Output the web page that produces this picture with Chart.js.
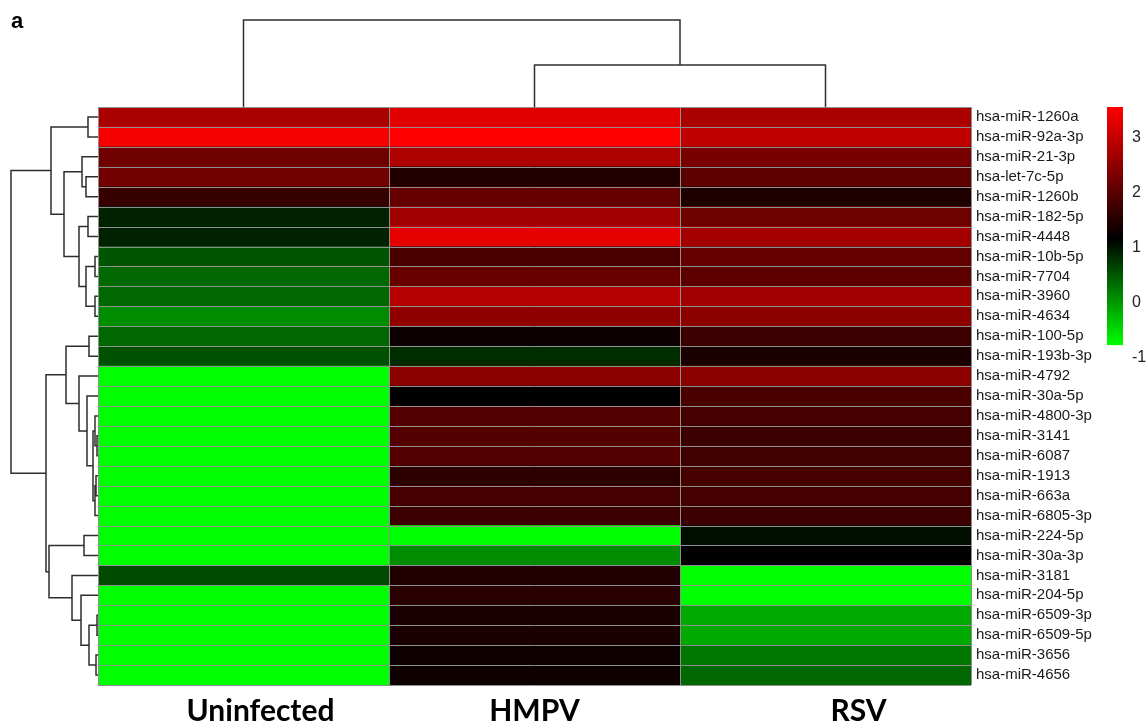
<!DOCTYPE html>
<html>
<head>
<meta charset="utf-8">
<script src="https://cdn.jsdelivr.net/npm/chart.js@4.4.0/dist/chart.umd.min.js"></script>
<style>
  html,body{margin:0;padding:0;background:#fff;}
  #wrap{position:relative;width:1147px;height:728px;}
</style>
</head>
<body>
<div id="wrap"><canvas id="c" width="1147" height="728"></canvas></div>
<script>
// ---------- data ----------
const rowLabels = [
  "hsa-miR-1260a","hsa-miR-92a-3p","hsa-miR-21-3p","hsa-let-7c-5p","hsa-miR-1260b",
  "hsa-miR-182-5p","hsa-miR-4448","hsa-miR-10b-5p","hsa-miR-7704","hsa-miR-3960",
  "hsa-miR-4634","hsa-miR-100-5p","hsa-miR-193b-3p","hsa-miR-4792","hsa-miR-30a-5p",
  "hsa-miR-4800-3p","hsa-miR-3141","hsa-miR-6087","hsa-miR-1913","hsa-miR-663a",
  "hsa-miR-6805-3p","hsa-miR-224-5p","hsa-miR-30a-3p","hsa-miR-3181","hsa-miR-204-5p",
  "hsa-miR-6509-3p","hsa-miR-6509-5p","hsa-miR-3656","hsa-miR-4656"
];
const columnLabels = ["Uninfected","HMPV","RSV"];

const uninfected = [2.75,3.46,2.19,2.23,1.67,0.89,0.89,0.51,0.36,0.36,0.09,0.36,0.54,
  -0.9,-0.9,-0.9,-0.9,-0.9,-0.9,-0.9,-0.9,-0.9,-0.9,0.58,-0.9,-0.9,-0.9,-0.9,-0.9];
const hmpv = [3.27,3.6,2.80,1.48,2.09,2.66,3.31,1.86,2.14,2.84,2.51,1.26,0.81,
  2.47,1.15,1.95,1.95,1.95,1.57,1.81,1.71,-0.9,0.09,1.48,1.53,1.39,1.39,1.29,1.29];
const rsv = [2.75,2.94,2.28,2.04,1.43,2.19,2.70,2.09,2.04,2.66,2.47,1.71,1.39,
  2.47,1.86,1.81,1.71,1.76,1.81,1.81,1.71,1.04,1.15,-0.9,-0.9,-0.14,-0.14,0.24,0.36];

const colorbarTicks = [3,2,1,0,-1];
const colorMin = -0.78, colorMid = 1.15, colorMax = 3.55;

// dendrograms: [left, right, mergeHeight]; leaves are row/column indices
const rowTree = [
  [[0,1,10],
   [[2,[3,4,12],16],
    [[5,6,10],[[7,8,3],[9,10,3],12],19],34],47],
  [[[11,12,9],
    [13,[14,[[15,[16,17,1],3],[[18,19,2],20,3],5],11],19],32],
   [[21,22,14],
    [23,[24,[[25,26,1],[27,28,2],9],17],26],49],52],
  87];
const rowTreeMax = 87;
const colTree = [0,[1,2,42],87];
const colTreeMax = 87;

// ---------- helpers ----------
function colorFor(v){
  if (v >= colorMid){
    const t = Math.min(1,(v-colorMid)/(colorMax-colorMid));
    return `rgb(${Math.round(255*t)},0,0)`;
  }
  const t = Math.min(1,(colorMid-v)/(colorMid-colorMin));
  return `rgb(0,${Math.round(255*t)},0)`;
}

const seriesList = [uninfected, hmpv, rsv];

const gridPlugin = {
  id:'cellgrid',
  afterDatasetsDraw(chart){
    const {ctx, chartArea:a, scales} = chart;
    const n = rowLabels.length;
    const rh = (a.bottom - a.top)/n;
    ctx.save();
    ctx.strokeStyle = '#8f8f8f';
    ctx.lineWidth = 1;
    ctx.beginPath();
    for (let i=0;i<=n;i++){
      const y = Math.round(scales.y.getPixelForValue(Math.min(i,n-1)) + (i<n ? -rh/2 : rh/2)) + 0.5;
      ctx.moveTo(a.left, y); ctx.lineTo(a.right, y);
    }
    for (let j=0;j<=columnLabels.length;j++){
      const x = Math.round(scales.x.getPixelForValue(j)) + 0.5;
      ctx.moveTo(x, a.top); ctx.lineTo(x, a.bottom);
    }
    ctx.stroke();
    ctx.restore();
  }
};

function drawTree(ctx, node, leafPos, hToPix, horizontal){
  if (typeof node === 'number') return [leafPos(node), 0];
  const [l, r, h] = node;
  const L = drawTree(ctx, l, leafPos, hToPix, horizontal);
  const R = drawTree(ctx, r, leafPos, hToPix, horizontal);
  const hp = hToPix(h), lp = hToPix(L[1]), rp = hToPix(R[1]);
  if (horizontal){
    ctx.moveTo(lp, L[0]); ctx.lineTo(hp, L[0]); ctx.lineTo(hp, R[0]); ctx.lineTo(rp, R[0]);
  } else {
    ctx.moveTo(L[0], lp); ctx.lineTo(L[0], hp); ctx.lineTo(R[0], hp); ctx.lineTo(R[0], rp);
  }
  return [(L[0]+R[0])/2, h];
}

// small horizontal nudges of the column titles, as placed in the original figure
const columnTitleNudge = [17, 0, 33];

const decorPlugin = {
  id:'decor',
  afterDraw(chart){
    const {ctx, chartArea:a, scales} = chart;
    ctx.save();
    ctx.strokeStyle = '#2e2e2e';
    ctx.lineWidth = 1.5;
    ctx.lineJoin = 'miter';
    // row dendrogram
    const rowSpan = a.left - 11;
    ctx.beginPath();
    drawTree(ctx, rowTree, i => scales.y.getPixelForValue(i), h => a.left - h/rowTreeMax*rowSpan, true);
    ctx.stroke();
    // column dendrogram
    const colSpan = a.top - 20;
    ctx.beginPath();
    drawTree(ctx, colTree, j => scales.x.getPixelForValue(j+0.5), h => a.top - h/colTreeMax*colSpan, false);
    ctx.stroke();

    // column titles
    ctx.fillStyle = '#000';
    ctx.font = 'bold 30px Lato, "Open Sans", sans-serif';
    ctx.textAlign = 'center';
    ctx.textBaseline = 'alphabetic';
    columnLabels.forEach((lab, j) => {
      ctx.fillText(lab, scales.x.getPixelForValue(j+0.5) + columnTitleNudge[j], a.bottom + 36);
    });

    // colour bar
    const pxPerUnit = 55;
    const cbX = 1107, cbW = 16;
    const yOf = v => a.top + (colorMax - v)*pxPerUnit;
    const g = ctx.createLinearGradient(0, yOf(colorMax), 0, yOf(colorMin));
    g.addColorStop(0, 'rgb(255,0,0)');
    g.addColorStop((colorMax-colorMid)/(colorMax-colorMin), 'rgb(0,0,0)');
    g.addColorStop(1, 'rgb(0,255,0)');
    ctx.fillStyle = g;
    ctx.fillRect(cbX, yOf(colorMax), cbW, yOf(colorMin)-yOf(colorMax));
    ctx.fillStyle = '#222';
    ctx.font = '16px "Liberation Sans", Arial, sans-serif';
    ctx.textAlign = 'left';
    ctx.textBaseline = 'middle';
    colorbarTicks.forEach(t => ctx.fillText(String(t), cbX + cbW + 9, yOf(t)));

    // panel letter
    ctx.fillStyle = '#000';
    ctx.font = 'bold 22px "Liberation Sans", Arial, sans-serif';
    ctx.textBaseline = 'alphabetic';
    ctx.fillText('a', 11, 28);
    ctx.restore();
  }
};

const datasets = seriesList.map((vals, j) => ({
  label: columnLabels[j],
  data: vals.map(() => 1),
  backgroundColor: vals.map(colorFor),
  borderWidth: 0,
  barPercentage: 1,
  categoryPercentage: 1,
  xAxisID: 'x',
  yAxisID: 'y'
}));

new Chart(document.getElementById('c'), {
  type: 'bar',
  data: { labels: rowLabels, datasets },
  options: {
    indexAxis: 'y',
    responsive: false,
    devicePixelRatio: 1,
    animation: false,
    layout: { padding: { left: 98, top: 107, right: 0, bottom: 43 } },
    plugins: { legend: { display: false }, tooltip: { enabled: false } },
    scales: {
      x: { type: 'linear', min: 0, max: 3, stacked: true, display: false },
      y: {
        type: 'category', position: 'right', stacked: true, offset: true,
        grid: { display: false, drawTicks: false }, border: { display: false },
        ticks: { color: '#1a1a1a', padding: 5, autoSkip: false,
                 font: { family: '"Liberation Sans", Arial, sans-serif', size: 15 } },
        afterFit: s => { s.width = 176; }
      }
    }
  },
  plugins: [gridPlugin, decorPlugin]
});
</script>
</body>
</html>
